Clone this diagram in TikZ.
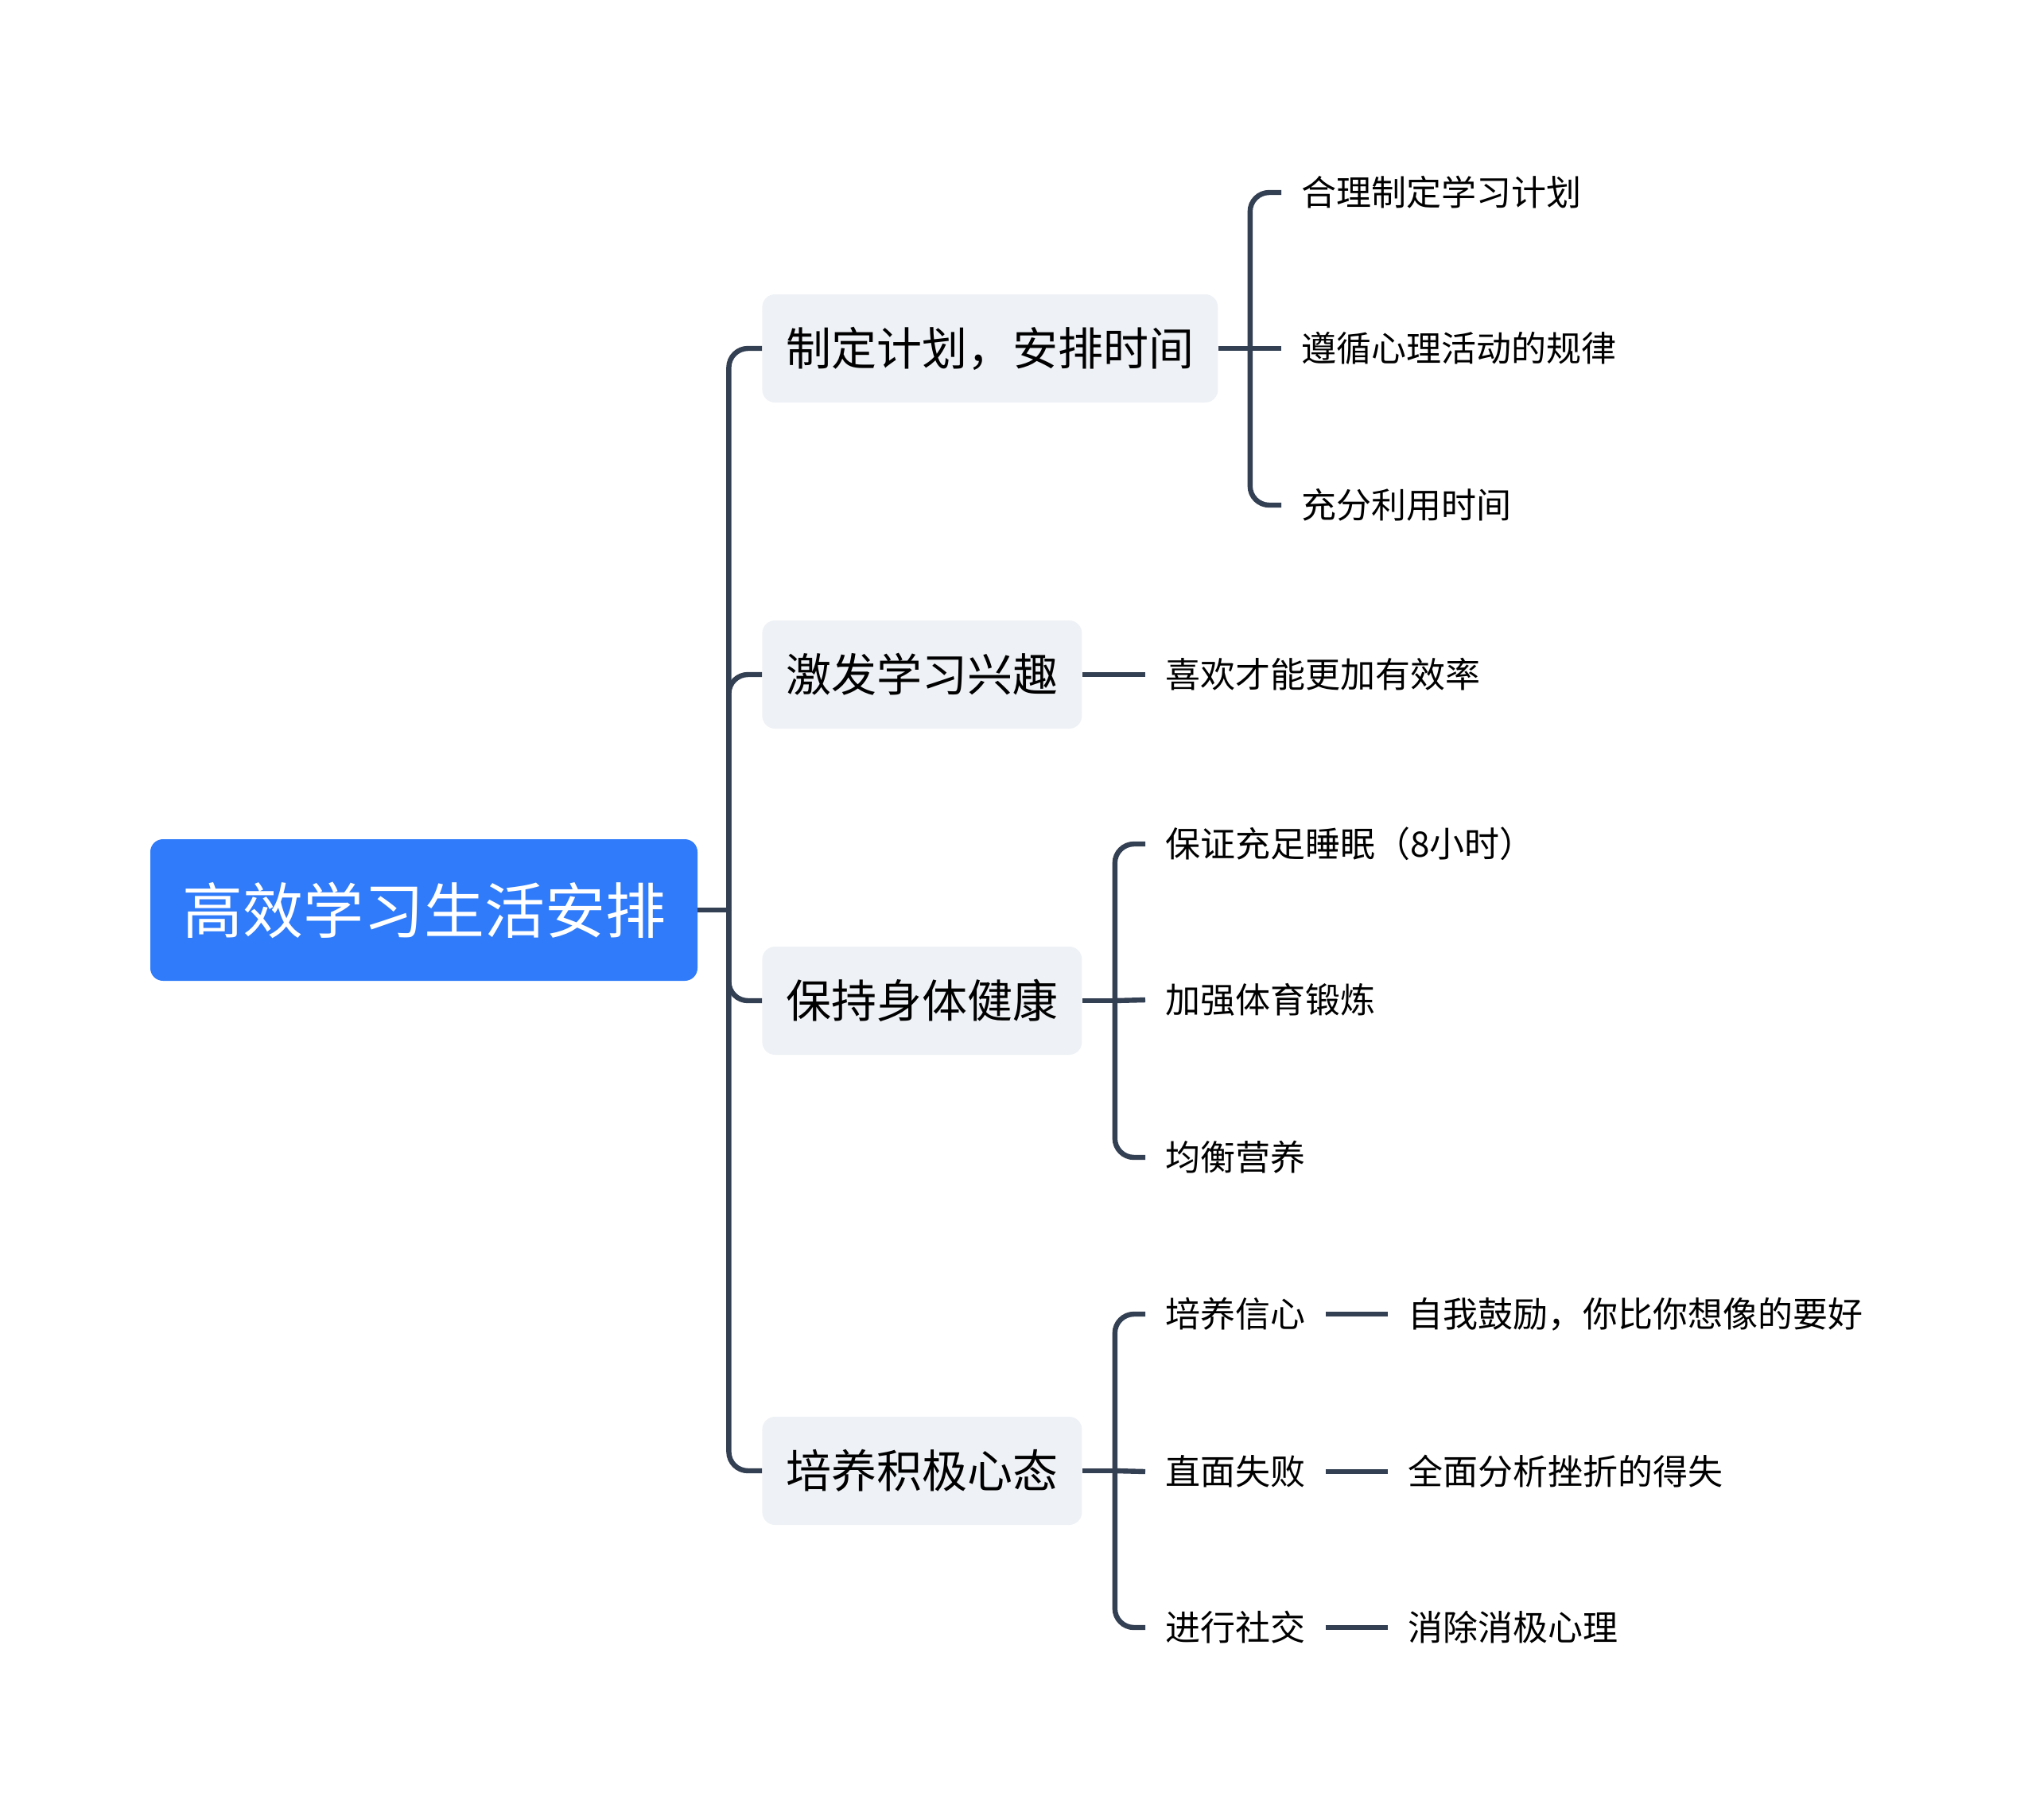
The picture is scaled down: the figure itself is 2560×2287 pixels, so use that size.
\documentclass[tikz,border=0pt]{standalone}
\usepackage{fontspec}
\setmainfont{Noto Sans CJK SC}
\usepackage{tikz}
\usetikzlibrary{positioning}

\definecolor{rootblue}{HTML}{2F7BF9}
\definecolor{boxgrey}{HTML}{EEF1F5}
\definecolor{linedark}{HTML}{333F52}

\begin{document}
\begin{tikzpicture}[
    x=0.5pt, y=-0.5pt,
    rootbox/.style={fill=rootblue, text=white, rounded corners=8pt, font=\fontsize{38pt}{44pt}\selectfont, minimum height=89pt, inner xsep=20pt},
    topicbox/.style={fill=boxgrey, text=black, rounded corners=8pt, font=\fontsize{28.5pt}{34pt}\selectfont, minimum height=68pt, inner xsep=15pt, anchor=west},
    leaf/.style={text=black, font=\fontsize{22pt}{26pt}\selectfont, inner xsep=12.5pt, anchor=west},
    branch/.style={draw=linedark, line width=3.2pt, rounded corners=12pt}
]

% Page frame
\useasboundingbox (0,0) rectangle (2560,2287);

% Central topic
\node[rootbox] (root) at (533,1144) {高效学习生活安排};

% Main topics
\node[topicbox] (plan)   at (958,438)  {制定计划，安排时间};
\node[topicbox] (fun)    at (958,848)  {激发学习兴趣};
\node[topicbox] (health) at (958,1258) {保持身体健康};
\node[topicbox] (mind)   at (958,1849) {培养积极心态};

% Subtopics
\node[leaf] (plana) at (1611,242) {合理制定学习计划};
\node[leaf] (planb) at (1611,438) {遵循心理活动的规律};
\node[leaf] (planc) at (1611,635) {充分利用时间};

\node[leaf] (funa) at (1440,848) {喜欢才能更加有效率};

\node[leaf] (healtha) at (1440,1061) {保证充足睡眠（8小时）};
\node[leaf] (healthb) at (1440,1257) {加强体育锻炼};
\node[leaf] (healthc) at (1440,1455) {均衡营养};

\node[leaf] (minda) at (1440,1652) {培养信心};
\node[leaf] (mindb) at (1440,1850) {直面失败};
\node[leaf] (mindc) at (1440,2046) {进行社交};

% Details
\node[leaf] (mindaa) at (1745,1652) {自我鼓励，你比你想像的要好};
\node[leaf] (mindba) at (1745,1850) {全面分析挫折的得失};
\node[leaf] (mindca) at (1745,2046) {消除消极心理};

% Fork points
\path (root.east) ++(39,0) coordinate (rootfork);
\path (plan.east) ++(40,0) coordinate (planfork);
\path (health.east) ++(41,0) coordinate (healthfork);
\path (mind.east) ++(41,0) coordinate (mindfork);

% Central topic to main topics
\draw[branch] (root.east) -- (rootfork);
\draw[branch] (rootfork) |- (plan.west);
\draw[branch] (rootfork) |- (fun.west);
\draw[branch] (rootfork) |- (health.west);
\draw[branch] (rootfork) |- (mind.west);

% Main topics to subtopics
\draw[branch] (plan.east) -- (planfork);
\draw[branch] (planfork) |- (plana.west);
\draw[branch] (planfork) -- (planb.west);
\draw[branch] (planfork) |- (planc.west);

\draw[branch] (fun.east) -- (funa.west);

\draw[branch] (health.east) -- (healthfork);
\draw[branch] (healthfork) |- (healtha.west);
\draw[branch] (healthfork) -- (healthb.west);
\draw[branch] (healthfork) |- (healthc.west);

\draw[branch] (mind.east) -- (mindfork);
\draw[branch] (mindfork) |- (minda.west);
\draw[branch] (mindfork) -- (mindb.west);
\draw[branch] (mindfork) |- (mindc.west);

% Subtopics to details
\draw[branch] (minda.east) -- (mindaa.west);
\draw[branch] (mindb.east) -- (mindba.west);
\draw[branch] (mindc.east) -- (mindca.west);

\end{tikzpicture}
\end{document}
